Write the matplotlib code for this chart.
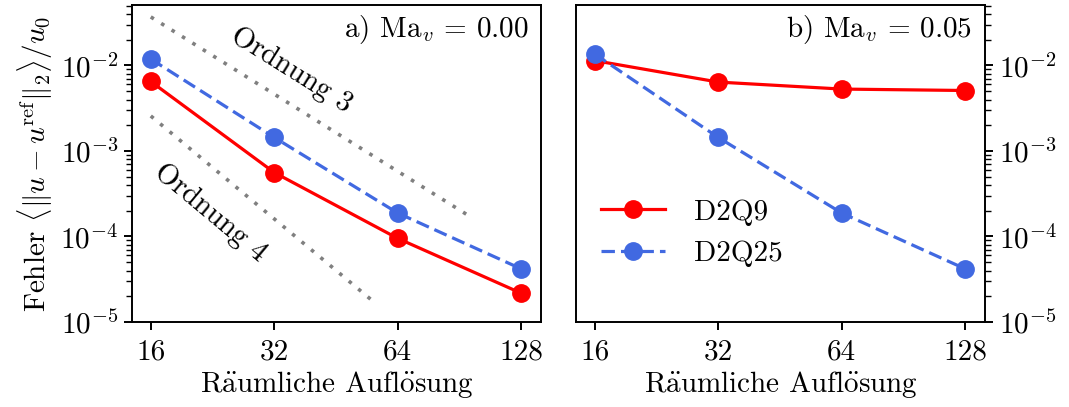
import numpy as np
import matplotlib.pyplot as plt

# Daten
aufloesung = [16, 32, 64, 128]
d2q9_a = [6.5e-3, 5.6e-4, 9.5e-5, 2.17e-5]
d2q25_a = [1.19e-2, 1.44e-3, 1.88e-4, 4.18e-5]
d2q9_b = [1.14e-2, 6.4e-3, 5.3e-3, 5.1e-3]
d2q25_b = [1.36e-2, 1.44e-3, 1.88e-4, 4.18e-5]

# Referenzgeraden (Ordnung 3 und 4)
ord3_x = [16, 94.5]
ord3_c = 3.7e-2
ord4_x = [16, 55.4]
ord4_c = 2.57e-3

plt.rcParams['font.family'] = ['cmr10', 'DejaVu Serif']
plt.rcParams['mathtext.fontset'] = 'cm'
plt.rcParams['axes.unicode_minus'] = False
plt.rcParams['axes.formatter.use_mathtext'] = True
plt.rcParams['font.size'] = 21
plt.rcParams['axes.linewidth'] = 1.4

xlabel = r'R$\ddot{\mathrm{a}}$umliche Aufl$\ddot{\mathrm{o}}$sung'

fig = plt.figure(figsize=(10.69, 4.07), dpi=100)
ax1 = fig.add_axes([132/1069, 85/407, 409/1069, 317/407])
ax2 = fig.add_axes([576/1069, 85/407, 409/1069, 317/407])

for ax, y9, y25, title in [(ax1, d2q9_a, d2q25_a, r'a) Ma$_v$ = 0.00'),
                           (ax2, d2q9_b, d2q25_b, r'b) Ma$_v$ = 0.05')]:
    ax.plot(aufloesung, y9, '-o', color='red', lw=2.3, ms=12.5, label='D2Q9')
    ax.plot(aufloesung, y25, '--o', color='royalblue', lw=2.3, ms=12.5,
            dashes=(4.2, 1.9), label='D2Q25')
    ax.set_xscale('log', base=2)
    ax.set_yscale('log')
    ax.set_xlim(14.4, 143)
    ax.set_ylim(1e-5, 5.1e-2)
    ax.set_xticks(aufloesung)
    ax.set_xticklabels([str(v) for v in aufloesung])
    ax.xaxis.set_minor_locator(plt.NullLocator())
    ax.set_xlabel(xlabel, labelpad=3)
    ax.tick_params(which='major', width=1.4, length=6)
    ax.tick_params(which='minor', width=1.0, length=4)
    ax.tick_params(axis='x', pad=6)
    ax.tick_params(axis='y', pad=4)
    ax.annotate(title, xy=(1, 1), xycoords='axes fraction', xytext=(-9, -6),
                textcoords='offset points', ha='right', va='top')

# Ordnungslinien
x3 = np.array(ord3_x)
x4 = np.array(ord4_x)
y3 = ord3_c * (x3 / 16.0) ** -3
y4 = ord4_c * (x4 / 16.0) ** -4
ax1.plot(x3, y3, color='gray', lw=2.6, ls=(0, (1, 2.4)))
ax1.plot(x4, y4, color='gray', lw=2.6, ls=(0, (1, 2.4)))


def winkel(xs, ys):
    p = ax1.transData.transform(np.column_stack([xs, ys]))
    return np.degrees(np.arctan2(p[1, 1] - p[0, 1], p[1, 0] - p[0, 0]))


ax1.text(35.3, 8.9e-3, 'Ordnung 3', rotation=winkel(x3, y3), ha='center',
         va='center', rotation_mode='anchor')
ax1.text(22.4, 1.87e-4, 'Ordnung 4', rotation=winkel(x4, y4), ha='center',
         va='center', rotation_mode='anchor')

ax1.set_ylabel(r'Fehler $\langle \| u - u^\mathrm{ref} \|_2 \rangle / u_0$', labelpad=4)
ax2.yaxis.tick_right()
ax2.legend(loc='lower left', frameon=False, bbox_to_anchor=(0.01, 0.11),
           handlelength=2.2, handletextpad=1.0, borderaxespad=0.3)

fig.savefig('out.png', dpi=100)
